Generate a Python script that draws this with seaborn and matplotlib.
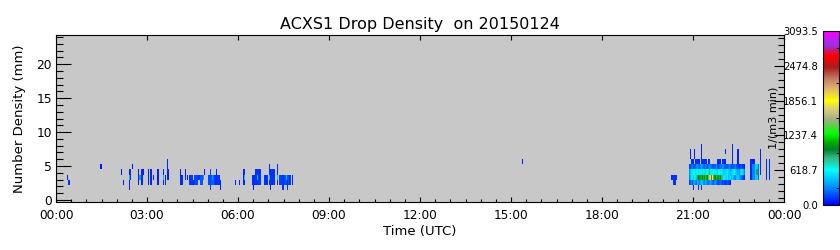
import numpy as np
import matplotlib
matplotlib.use("Agg")
import matplotlib.pyplot as plt
import seaborn as sns
from matplotlib.colors import LinearSegmentedColormap
from matplotlib.ticker import MultipleLocator, FixedLocator

plt.rcParams['font.family'] = ['DejaVu Sans']

# ---------------- data ----------------
title = "ACXS1 Drop Density  on 20150124"
xlabel = "Time (UTC)"
ylabel = "Number Density (mm)"
cbar_label = "1/(m3 min)"

minutes_per_bin = 2          # time resolution of the grid
mm_per_class = 0.75          # drop-size class width
n_time = 720                 # 24 h of 2-min bins
n_size = 33                  # size classes (0 .. 24.75 mm)
vmax = 3093.5
cbar_ticks = [0.0, 618.7, 1237.4, 1856.1, 2474.8, 3093.5]
hour_labels = ["00:00", "03:00", "06:00", "09:00", "12:00",
               "15:00", "18:00", "21:00", "00:00"]
size_ticks = [0, 5, 10, 15, 20]

# (first time bin, last time bin, lowest size class, highest size class, density)
morning = [
    (11, 11, 4, 4, 80), (12, 13, 3, 3, 120), (44, 44, 6, 6, 60),
    (64, 64, 5, 5, 60), (66, 66, 3, 3, 60),
    (72, 72, 2, 5, 90), (72, 72, 4, 4, 450), (73, 73, 4, 5, 100),
    (75, 75, 6, 6, 60),
    (81, 81, 3, 5, 80), (82, 84, 4, 4, 380), (84, 85, 3, 5, 90), (86, 86, 5, 5, 70),
    (91, 91, 3, 5, 80), (93, 94, 3, 5, 90), (96, 96, 4, 4, 70),
    (100, 101, 3, 5, 80),
    (106, 106, 3, 5, 90), (106, 106, 4, 4, 450), (108, 108, 3, 4, 80),
    (110, 110, 4, 7, 90), (111, 111, 4, 5, 70),
    (123, 123, 3, 5, 90), (124, 125, 3, 4, 100),
    (128, 128, 4, 5, 80), (130, 130, 4, 4, 70),
    (132, 134, 3, 4, 130), (135, 135, 3, 3, 80), (136, 139, 3, 4, 160),
    (140, 141, 4, 4, 120), (142, 144, 3, 4, 200), (145, 145, 4, 4, 350),
    (146, 146, 5, 5, 70),
    (150, 151, 3, 4, 180), (152, 152, 2, 5, 150), (153, 155, 3, 4, 220),
    (154, 154, 4, 4, 330), (156, 156, 3, 4, 140),
    (157, 161, 3, 4, 120), (158, 158, 5, 5, 80), (162, 162, 2, 3, 90),
    (177, 177, 3, 3, 70), (181, 181, 3, 3, 70),
    (185, 186, 3, 5, 90), (186, 186, 4, 4, 450),
    (194, 196, 3, 4, 100), (195, 195, 2, 2, 70),
    (197, 202, 3, 5, 120), (199, 199, 4, 4, 420), (200, 201, 3, 4, 140),
    (206, 209, 3, 4, 110),
    (211, 216, 3, 5, 120), (211, 211, 3, 6, 120), (211, 211, 4, 4, 420),
    (212, 212, 2, 2, 80),
    (219, 219, 3, 6, 120), (219, 219, 4, 4, 480),
    (221, 223, 3, 4, 150), (224, 224, 2, 4, 120), (225, 229, 3, 4, 170),
    (227, 227, 4, 4, 450), (228, 228, 2, 3, 100), (230, 231, 3, 4, 130),
    (233, 233, 3, 4, 80),
]
afternoon = [(461, 461, 7, 7, 60)]

# evening rain: time bins 626 .. 680 for size classes 3..7
evening_first_bin = 626
row3 = [150, 250, 300, 200, 350, 400, 300, 250, 450, 350,
        300, 400, 500, 450, 350, 300, 400, 350, 300, 250,
        350, 400, 300, 250, 200, 300, 350, 250, 200, 150,
        200, 250, 200, 150, 200, 150, 100, 150, 200, 150,
        100, 80] + [np.nan] * 13
row4 = [300, 450, 550, 600, 500, 650, 700, 800,
        900, 1000, 950, 1100, 1150, 1000, 900, 1050, 1200, 1100, 1000, 1300,
        1650, 1900, 3050, 1800,
        1200, 1100, 1000, 1150, 950, 1050, 900, 1000, 850, 800, 700,
        600, 550, 500, 600, 450, 500, 550, 400, 500, 450, 350, 300,
        450, 500, 400, 300, 250, 200, 150, 100]
row5 = [350, 450, 550, 600, 650, 600, 700, 650, 600, 550,
        650, 700, 600, 550, 650, 700, 750, 650, 600, 700,
        850, 700, 650, 600, 650, 700, 600, 550, 500, 600,
        650, 700, 600, 550, 500, 450, 500, 550, 600, 500,
        450, 400, 500, 550, 600, 650, 500, 450, 400, 350,
        500, 600, 550, 450, 300]
row6 = [150, 200, 250, 300, 200, 150, 250, 300, 350, 250,
        200, 300, 400, 350, 250, 200, 300, 250, 200, 300,
        350, 300, 250, 200, 150, 200, 250, 300, 200, 150,
        200, 250, 300, 350, 300, 250, 200, 150, 200, 250,
        300, 250, 200, 150, 200, 250, 300, 200, 150, 100,
        150, 200, 150, 100, 80]
row7 = [np.nan, np.nan, 80, 100, 100, np.nan, 80, 100, 120, 100,
        80, np.nan, 100, 120, 100, 80, 100, 120, np.nan, 100,
        80, np.nan, np.nan, np.nan, np.nan, np.nan, np.nan, np.nan, 100, 120,
        100, 80, np.nan, 100, 120, 100, 80, np.nan, np.nan, np.nan] + [np.nan] * 15
evening_rows = {3: row3, 4: row4, 5: row5, 6: row6, 7: row7}
evening_extra = [
    (608, 613, 4, 4, 110), (610, 612, 3, 3, 110),
    (627, 627, 8, 9, 80), (631, 631, 8, 9, 80), (638, 638, 8, 10, 80),
    (662, 662, 9, 9, 80), (669, 669, 7, 10, 90), (674, 674, 7, 9, 90),
    (630, 630, 2, 2, 100), (635, 635, 2, 2, 100), (638, 638, 2, 2, 100),
    (686, 687, 4, 7, 100), (688, 690, 4, 6, 300), (688, 690, 7, 7, 80),
    (691, 693, 4, 6, 500), (692, 693, 5, 5, 900), (694, 694, 4, 6, 250),
    (696, 696, 5, 9, 90), (702, 702, 4, 7, 90), (705, 705, 4, 7, 90),
]

# ---------------- grid ----------------
grid = np.full((n_size, n_time), np.nan)
for c0, c1, r0, r1, v in morning + afternoon + evening_extra[:2]:
    grid[r0:r1 + 1, c0:c1 + 1] = v
for r, vals in evening_rows.items():
    grid[r, evening_first_bin:evening_first_bin + len(vals)] = vals
for c0, c1, r0, r1, v in evening_extra[2:]:
    grid[r0:r1 + 1, c0:c1 + 1] = v

# ---------------- colormap ----------------
cmap = LinearSegmentedColormap.from_list("drops", [
    (0.00, (0/255, 0/255, 255/255)),
    (0.10, (0/255, 140/255, 255/255)),
    (0.20, (0/255, 255/255, 255/255)),
    (0.27, (50/255, 185/255, 130/255)),
    (0.32, (0/255, 125/255, 40/255)),
    (0.36, (0/255, 175/255, 0/255)),
    (0.41, (0/255, 255/255, 0/255)),
    (0.49, (160/255, 175/255, 130/255)),
    (0.55, (215/255, 205/255, 120/255)),
    (0.60, (255/255, 255/255, 0/255)),
    (0.67, (220/255, 180/255, 110/255)),
    (0.73, (195/255, 120/255, 100/255)),
    (0.79, (170/255, 30/255, 30/255)),
    (0.86, (255/255, 0/255, 0/255)),
    (0.92, (150/255, 50/255, 230/255)),
    (1.00, (255/255, 0/255, 255/255)),
])

# ---------------- figure ----------------
W, H = 840, 250
fig = plt.figure(figsize=(W / 100, H / 100), dpi=100)
fig.patch.set_facecolor("white")
ax = fig.add_axes([56 / W, 1 - 202 / H, (784 - 56) / W, (202 - 35) / H])
cax = fig.add_axes([823 / W, 1 - 205 / H, 16 / W, 174 / H])

sns.heatmap(grid, ax=ax, cbar_ax=cax, cmap=cmap, vmin=0, vmax=vmax,
            xticklabels=False, yticklabels=False)
ax.set_facecolor("#c8c8c8")
for s in ax.spines.values():
    s.set_visible(True)
    s.set_color("black")
    s.set_linewidth(0.8)

bins_per_hour = 60 / minutes_per_bin
ax.set_xlim(0, n_time)
ax.set_ylim(-0.3 / mm_per_class, 24.3 / mm_per_class)
ax.xaxis.set_major_locator(FixedLocator([i * 3 * bins_per_hour for i in range(len(hour_labels))]))
ax.set_xticklabels(hour_labels)
ax.xaxis.set_minor_locator(MultipleLocator(bins_per_hour / 2))
ax.yaxis.set_major_locator(FixedLocator([t / mm_per_class for t in size_ticks]))
ax.set_yticklabels([str(t) for t in size_ticks], rotation=0)
ax.yaxis.set_minor_locator(FixedLocator([t / mm_per_class for t in range(0, 25)]))

ax.tick_params(axis='x', which='major', direction='in', length=3.8, width=0.8,
               bottom=True, top=True, labelsize=8.7, pad=5, colors='black')
ax.tick_params(axis='x', which='minor', direction='in', length=2.2, width=0.8,
               bottom=True, top=False)
ax.tick_params(axis='y', which='major', direction='in', length=10.8, width=0.8,
               left=True, right=False, labelsize=8.8, pad=3, colors='black')
ax.tick_params(axis='y', which='minor', direction='in', length=5, width=0.8,
               left=True, right=False)
ax.set_xlabel(xlabel, fontsize=9.5, labelpad=2, color='black')
ax.set_ylabel(ylabel, fontsize=9.5, labelpad=7, color='black')
ax.set_title(title, fontsize=11.5, pad=4, color='black')

# right-hand density axis
ax2 = ax.twinx()
lo = (205 - 202) / 174 * vmax
hi = (205 - 35) / 174 * vmax
ax2.set_ylim(lo, hi)
ax2.yaxis.set_major_locator(FixedLocator(cbar_ticks))
ax2.yaxis.set_minor_locator(MultipleLocator(vmax / 25))
ax2.tick_params(axis='y', which='major', direction='in', length=7.2, width=0.8,
                labelright=False)
ax2.tick_params(axis='y', which='minor', direction='in', length=4.3, width=0.8)
for s in ax2.spines.values():
    s.set_visible(False)
fig.text(773 / W, 1 - 118 / H, cbar_label, rotation=90, ha='center', va='center',
         fontsize=8.1, color='black')

# colorbar
cb = ax.collections[0].colorbar
cb.set_ticks(cbar_ticks)
cb.set_ticklabels([f"{t:.1f}" for t in cbar_ticks])
cb.outline.set_linewidth(0.8)
cb.outline.set_edgecolor("black")
cax.yaxis.set_ticks_position('left')
cax.yaxis.set_minor_locator(MultipleLocator(vmax / 10))
cax.tick_params(axis='y', which='major', length=0, labelsize=7.2, pad=3.5,
                left=False, labelleft=True, right=False, labelright=False)
cax.tick_params(axis='y', which='minor', direction='in', length=2.5, width=0.6,
                left=False, right=True)

fig.savefig("out.png", dpi=100, facecolor="white")
